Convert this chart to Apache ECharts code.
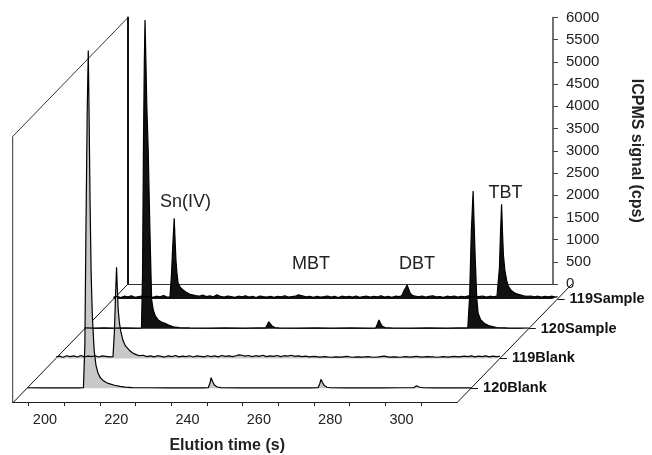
<!DOCTYPE html>
<html>
<head>
<meta charset="utf-8">
<script src="https://cdn.jsdelivr.net/npm/echarts@6/dist/echarts.min.js"></script>
<style>
html, body { margin: 0; padding: 0; background: #fff; }
#chart { width: 652px; height: 455px; }
</style>
</head>
<body>
<div id="chart"></div>
<script>
// series, from the back row to the front row
var seriesNames = ['119Sample', '120Sample', '119Blank', '120Blank'];

// elution time (s), signal (cps)
var sample119 = [[185.5,40],[186.5,55],[187.5,30],[188.5,60],[189.5,45],[190.5,70],[191.5,35],[192.5,50],[193.5,65],[194.5,40],[195.5,55],[196.5,35],[197.5,60],[198.5,45],[199.5,75],[200.5,40],
  [201.3,40],[201.7,500],[202.1,1200],[202.5,1815],[202.75,1300],[203,850],[203.3,550],[203.6,350],[204.2,260],[205,200],[206,140],[207,100],[208.5,75],
  [209.5,60],[210.5,85],[211.5,50],[212.5,70],[213.5,45],[214.5,90],[215.5,55],[216.5,40],[217.5,65],[218.5,50],[219.5,35],[220.5,60],[221.5,45],[222.5,70],[223.5,40],[224.5,55],[225.5,30],[226.5,65],[227.5,50],[228.5,40],[229.5,60],[230.5,35],[231.5,55],[232.5,45],[233.5,70],[234.5,40],[235.5,50],[236.5,60],
  [237.3,90],[237.8,110],[238.4,70],[239.5,45],[240.5,55],[241.5,35],[242.5,60],[243.5,40],[244.5,50],[245.5,65],[246.5,40],[247.5,55],[248.5,30],[249.5,60],[250.5,45],[251.5,55],[252.5,40],[253.5,65],[254.5,35],[255.5,50],[256.5,60],[257.5,40],[258.5,55],[259.5,45],[260.5,70],[261.5,40],[262.5,55],[263.5,35],[264.5,60],[265.5,50],
  [266.3,70],[266.9,180],[267.4,250],[267.8,313],[268.2,230],[268.7,120],[269.3,80],[270,60],[271,45],[272,65],[273,40],[274,55],[275,70],[276,45],[277,50],[278,35],[279,60],[280,45],[281,65],[282,40],[283,55],[284,45],[285,70],[286,40],[287,55],[288,50],[289,65],[290,40],[291,60],[292,45],[293,60],
  [293.4,100],[293.7,700],[294,1500],[294.3,2130],[294.55,1500],[294.8,1000],[295.2,650],[295.7,420],[296.2,280],[297,190],[298,130],[299,100],[300.5,70],
  [301.5,55],[302.5,65],[303.5,45],[304.5,60],[305.5,40],[306.5,55],[307.5,45],[308.5,60],[309.5,40],[310,50]];

var sample120 = [[185.5,15],[188,12],[191,18],[194,10],[197,15],[200,12],
  [201.4,15],[201.7,1200],[201.95,4000],[202.2,6000],[202.4,6950],[202.6,6200],[202.9,5000],[203.3,4000],[203.6,2800],[203.9,1770],[204.25,650],[204.7,420],[205.3,280],[206.1,195],[207,150],[208,120],[209,80],[210.3,40],[212,22],
  [215,15],[220,12],[225,16],[230,12],[234,15],
  [236.2,15],[236.7,90],[237.1,155],[237.5,110],[238,60],[238.8,25],
  [240,15],[245,12],[250,16],[255,12],[260,15],[265,12],
  [267.1,15],[267.6,110],[268,194],[268.4,120],[268.9,55],[269.7,22],
  [272,14],[277,12],[282,15],[287,12],[290,15],
  [292.9,15],[293.4,700],[293.9,2200],[294.4,3100],[294.7,2300],[295,1550],[295.4,700],[295.8,345],[296.5,200],[297.5,120],[299,60],[301,25],
  [304,15],[307,12],[310,14]];

var blank119 = [[185.5,30],[186.5,50],[187.5,25],[188.5,60],[189.5,40],[190.5,55],[191.5,30],[192.5,65],[193.5,35],[194.5,50],[195.5,40],[196.5,60],[197.5,30],[198.5,55],[199.5,45],[200.5,35],
  [201.5,40],[201.9,600],[202.2,1400],[202.5,2050],[202.7,1600],[202.95,1100],[203.3,800],[203.7,600],[204.3,400],[205,280],[206,190],[207,120],[208,85],[209,60],
  [210,70],[211,40],[212,55],[213,35],[214,60],[215,45],[216,30],[217,55],[218,40],[219,65],[220,35],[221,50],[222,40],[223,60],[224,30],[225,55],[226,45],[227,35],[228,60],[229,40],[230,55],[231,35],[232,65],[233,45],[234,55],[235,40],[236,60],
  [236.8,80],[237.2,110],[237.7,70],[238.5,50],[239.5,65],[240.5,40],[241.5,60],[242.5,45],[243.5,70],[244.5,40],[245.5,55],[246.5,45],[247.5,65],[248.5,40],[249.5,60],[250.5,50],[251.5,70],[252.5,45],[253.5,55],[254.5,40],[255.5,50],[256.5,35],
  [258,45],[259.5,30],[261,40],[262.5,25],[264,35],[265.5,30],[267,45],[268.5,25],[270,35],[271.5,30],[273,40],[274.5,25],[276,35],[277.5,50],[279,30],[280.5,35],[282,25],[283.5,40],[285,30],[286.5,45],[288,30],[289.5,40],[291,35],[292.5,25],[294,40],[295.5,30],[297,45],[298.5,35],
  [300,50],[301,40],[302,55],[303,35],[304,50],[305,40],[306,55],[307,35],[308,50],[309,40],[310,45]];

var blank120 = [[185.5,8],[190,6],[195,9],[200,7],
  [201.3,8],[201.7,1000],[202,3600],[202.35,6200],[202.65,7600],[202.9,6000],[203.15,4200],[203.45,2600],[203.8,1600],[204.3,850],[204.8,520],[205.3,360],[205.9,250],[206.8,170],[207.8,120],[208.7,95],[210,65],[211.5,40],[213,22],[215,12],
  [220,8],[225,6],[230,9],[235,7],
  [236.3,8],[236.8,120],[237.1,234],[237.5,150],[238,70],[238.8,25],[239.8,10],
  [245,7],[250,9],[255,6],[260,8],[265,7],
  [267.1,8],[267.6,110],[267.9,198],[268.3,130],[268.8,60],[269.6,20],[270.5,9],
  [275,7],[280,8],[285,6],[290,8],
  [293.9,8],[294.3,40],[294.7,54],[295.1,45],[295.6,20],[296.5,9],
  [300,7],[305,8],[310,6]];

var seriesData = [sample119, sample120, blank119, blank120];
var seriesFill = ['#111', '#111', '#c8c8c8', '#c8c8c8'];

var xMin = 185.5, xMax = 310;
var xTickValues = [190, 200, 210, 220, 230, 240, 250, 260, 270, 280, 290, 300];
var xLabelValues = [200, 220, 240, 260, 280, 300];
var yMaxBack = 6000, yInterval = 500;

var peakLabels = [
  { text: 'Sn(IV)', x: 185.5, y: 202 },
  { text: 'MBT', x: 311, y: 264 },
  { text: 'DBT', x: 417, y: 264.5 },
  { text: 'TBT', x: 505.5, y: 193 }
];

// box geometry (back wall, depth offset)
var BACK_LEFT = 128, BACK_TOP = 17.5, BACK_BOTTOM = 284, WALL_W = 444;
var DEPTH_DX = 115.3, DEPTH_DY = 119;
var FRONT_LEFT = BACK_LEFT - DEPTH_DX, FRONT_BOTTOM = BACK_BOTTOM + DEPTH_DY;
var WALL_H = BACK_BOTTOM - BACK_TOP;
var PX_PER_CPS = WALL_H / yMaxBack;
var FONT = 'Liberation Sans, Arial, sans-serif';

var grids = [
  { left: BACK_LEFT, top: BACK_TOP, width: WALL_W, height: WALL_H },
  { left: FRONT_LEFT, top: FRONT_BOTTOM - 10, width: WALL_W, height: 10 }
];
var xAxes = [
  { gridIndex: 0, type: 'value', min: xMin, max: xMax, position: 'bottom',
    axisLine: { lineStyle: { color: '#111', width: 1 } }, axisTick: { show: false }, axisLabel: { show: false }, splitLine: { show: false } },
  { gridIndex: 0, type: 'value', min: xMin, max: xMax, position: 'top',
    axisLine: { lineStyle: { color: '#333', width: 1 } }, axisTick: { show: false }, axisLabel: { show: false }, splitLine: { show: false } },
  { gridIndex: 1, type: 'value', min: xMin, max: xMax, position: 'bottom',
    name: 'Elution time (s)', nameLocation: 'middle', nameGap: 36,
    nameTextStyle: { fontFamily: FONT, fontSize: 16, fontWeight: 'bold', color: '#222', padding: [0, 15, 0, 0] },
    axisLine: { lineStyle: { color: '#222', width: 1 } },
    axisTick: { show: true, length: 4, customValues: xTickValues, lineStyle: { color: '#222' } },
    axisLabel: { customValues: xLabelValues, margin: 10, padding: [0, 39, 0, 0], fontFamily: FONT, fontSize: 14.5, color: '#222' },
    splitLine: { show: false } }
];
var yAxes = [
  { gridIndex: 0, type: 'value', min: 0, max: yMaxBack, interval: yInterval, position: 'right',
    name: 'ICPMS signal (cps)', nameLocation: 'middle', nameRotate: -90, nameGap: 75,
    nameTextStyle: { fontFamily: FONT, fontSize: 16, fontWeight: 'bold', color: '#222' },
    axisLine: { show: true, lineStyle: { color: '#444', width: 1.5 } },
    axisTick: { show: true, length: 5, lineStyle: { color: '#444' } },
    axisLabel: { margin: 13, fontFamily: FONT, fontSize: 15, color: '#222',
      formatter: function (v) { return String(v); } },
    splitLine: { show: false } },
  { gridIndex: 0, type: 'value', min: 0, max: yMaxBack, position: 'left',
    axisLine: { show: true, lineStyle: { color: '#111', width: 2 } },
    axisTick: { show: false }, axisLabel: { show: false }, splitLine: { show: false } },
  { gridIndex: 1, type: 'value', show: false }
];
var series = [];

seriesNames.forEach(function (name, i) {
  var frac = (i + 0.5) / seriesNames.length;
  var left = BACK_LEFT - DEPTH_DX * frac;
  var baseline = BACK_BOTTOM + DEPTH_DY * frac;
  // keep each row's grid inside the canvas, with the same cps-to-pixel scale as the back wall
  var yMax = Math.floor(baseline / PX_PER_CPS);
  var h = yMax * PX_PER_CPS;
  var g = grids.length;
  var ax = xAxes.length;
  grids.push({ left: left, top: baseline - h, width: WALL_W, height: h });
  xAxes.push({ gridIndex: g, type: 'value', min: xMin, max: xMax, show: false });
  yAxes.push({ gridIndex: g, type: 'value', min: 0, max: yMax, position: 'right',
    axisLine: { show: false },
    axisTick: { show: true, length: 7, customValues: [0], lineStyle: { color: '#111' } },
    axisLabel: { customValues: [0], margin: 12, fontFamily: FONT, fontSize: 14.5, fontWeight: 'bold', color: '#111',
      formatter: function () { return name; } },
    splitLine: { show: false } });
  series.push({
    name: name, type: 'line', xAxisIndex: ax, yAxisIndex: ax,
    data: seriesData[i], symbol: 'none', clip: false,
    lineStyle: { color: '#000', width: 1.2 },
    areaStyle: { color: seriesFill[i], opacity: 1, origin: 'start' }
  });
});

var graphics = [
  { type: 'polyline', z: 0, shape: { points: [[FRONT_LEFT, FRONT_BOTTOM], [FRONT_LEFT, FRONT_BOTTOM - WALL_H], [BACK_LEFT, BACK_TOP]] },
    style: { stroke: '#333', fill: null, lineWidth: 1 } },
  { type: 'line', z: 0, shape: { x1: FRONT_LEFT, y1: FRONT_BOTTOM, x2: BACK_LEFT, y2: BACK_BOTTOM }, style: { stroke: '#111', lineWidth: 1 } },
  { type: 'line', z: 0, shape: { x1: FRONT_LEFT + WALL_W, y1: FRONT_BOTTOM, x2: BACK_LEFT + WALL_W, y2: BACK_BOTTOM }, style: { stroke: '#111', lineWidth: 1 } }
];
peakLabels.forEach(function (p) {
  graphics.push({ type: 'text', x: p.x, y: p.y, z: 10,
    style: { text: p.text, fontFamily: FONT, fontSize: 18, fill: '#222', align: 'center', verticalAlign: 'middle' } });
});

var myChart = echarts.init(document.getElementById('chart'));
myChart.setOption({
  backgroundColor: '#fff',
  animation: false,
  grid: grids,
  xAxis: xAxes,
  yAxis: yAxes,
  series: series,
  graphic: graphics
});
</script>
</body>
</html>
